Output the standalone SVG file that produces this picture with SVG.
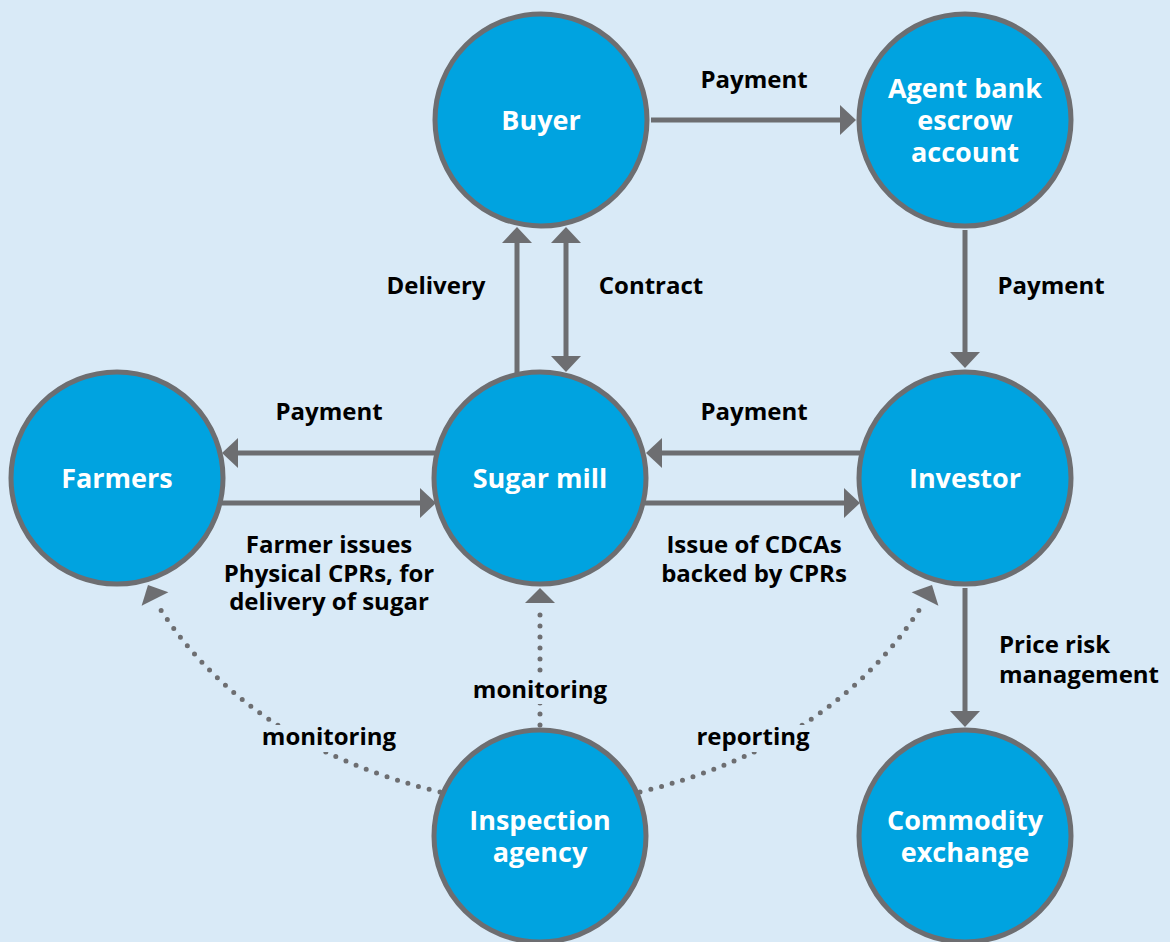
<svg xmlns="http://www.w3.org/2000/svg" width="1170" height="942" viewBox="0 0 1170 942">
<style>
.node circle{fill:#00a3e0;stroke:#6d6e71;stroke-width:5}
.node text{fill:#fff;font-family:"Open Sans","Noto Sans","DejaVu Sans",sans-serif;font-weight:700;font-size:27px;text-anchor:middle}
.lbl{fill:#000;font-family:"Open Sans","Noto Sans","DejaVu Sans",sans-serif;font-weight:700;font-size:24px;text-anchor:middle}
.lbl.start{text-anchor:start}
.solid{stroke:#6d6e71;stroke-width:5;fill:none}
.dot{stroke:#6d6e71;stroke-width:5;fill:none;stroke-linecap:round;stroke-dasharray:0 11}
.head{fill:#6d6e71}
.mask{fill:#d9eaf7}
</style>
<defs>
<marker id="arr" markerUnits="userSpaceOnUse" viewBox="0 0 16 30" refX="0" refY="15" markerWidth="16" markerHeight="30" orient="auto-start-reverse">
<path d="M0,0 L16,15 L0,30 z" fill="#6d6e71"/>
</marker>
</defs>
<rect width="1170" height="942" fill="#d9eaf7"/>
<g id="connectors">
<line class="solid" x1="651" y1="120" x2="840" y2="120" marker-end="url(#arr)"/>
<line class="solid" x1="965" y1="230" x2="965" y2="352" marker-end="url(#arr)"/>
<line class="solid" x1="965" y1="588" x2="965" y2="711" marker-end="url(#arr)"/>
<line class="solid" x1="435" y1="453" x2="238" y2="453" marker-end="url(#arr)"/>
<line class="solid" x1="222" y1="503" x2="420" y2="503" marker-end="url(#arr)"/>
<line class="solid" x1="860" y1="453" x2="662" y2="453" marker-end="url(#arr)"/>
<line class="solid" x1="645" y1="503" x2="844" y2="503" marker-end="url(#arr)"/>
<line class="solid" x1="517" y1="373" x2="517" y2="243" marker-end="url(#arr)"/>
<line class="solid" x1="566" y1="243" x2="566" y2="356" marker-start="url(#arr)" marker-end="url(#arr)"/>
<path class="dot" d="M440,792 Q246,745 157,604"/>
<polygon class="head" points="141.6,605.7 148,585 168.4,592.3"/>
<path class="dot" d="M640,792 Q834,745 923,604"/>
<polygon class="head" points="938.4,605.7 932,585 911.6,592.3"/>
<line class="dot" x1="540" y1="725" x2="540" y2="609"/>
<polygon class="head" points="525,603 540,588 555,603"/>
<rect class="mask" x="256" y="725" width="146" height="27"/>
<rect class="mask" x="690" y="725" width="126" height="27"/>
<rect class="mask" x="466" y="676" width="148" height="28"/>
</g>
<g id="labels">
<text class="lbl" x="754" y="88">Payment</text>
<text class="lbl" x="1051" y="294">Payment</text>
<text class="lbl" x="436" y="294">Delivery</text>
<text class="lbl" x="651" y="294">Contract</text>
<text class="lbl" x="329" y="420">Payment</text>
<text class="lbl" x="754" y="420">Payment</text>
<text class="lbl" x="329" y="553">Farmer issues</text>
<text class="lbl" x="329" y="582">Physical CPRs, for</text>
<text class="lbl" x="329" y="610">delivery of sugar</text>
<text class="lbl" x="754" y="553">Issue of CDCAs</text>
<text class="lbl" x="754" y="582">backed by CPRs</text>
<text class="lbl start" x="999" y="653">Price risk</text>
<text class="lbl start" x="999" y="683">management</text>
<text class="lbl" x="540" y="698">monitoring</text>
<text class="lbl" x="329" y="745">monitoring</text>
<text class="lbl" x="753" y="745">reporting</text>
</g>
<g id="buyer" class="node"><circle cx="541" cy="120" r="106"/><text x="541" y="130">Buyer</text></g>
<g id="agent-bank" class="node"><circle cx="965" cy="120" r="106"/><text x="965" y="98">Agent bank</text><text x="965" y="130">escrow</text><text x="965" y="162">account</text></g>
<g id="farmers" class="node"><circle cx="117" cy="478" r="106"/><text x="117" y="488">Farmers</text></g>
<g id="sugar-mill" class="node"><circle cx="540" cy="478" r="106"/><text x="540" y="488">Sugar mill</text></g>
<g id="investor" class="node"><circle cx="965" cy="478" r="106"/><text x="965" y="488">Investor</text></g>
<g id="inspection-agency" class="node"><circle cx="540" cy="836" r="106"/><text x="540" y="830">Inspection</text><text x="540" y="862">agency</text></g>
<g id="commodity-exchange" class="node"><circle cx="965" cy="836" r="106"/><text x="965" y="830">Commodity</text><text x="965" y="862">exchange</text></g>
</svg>
